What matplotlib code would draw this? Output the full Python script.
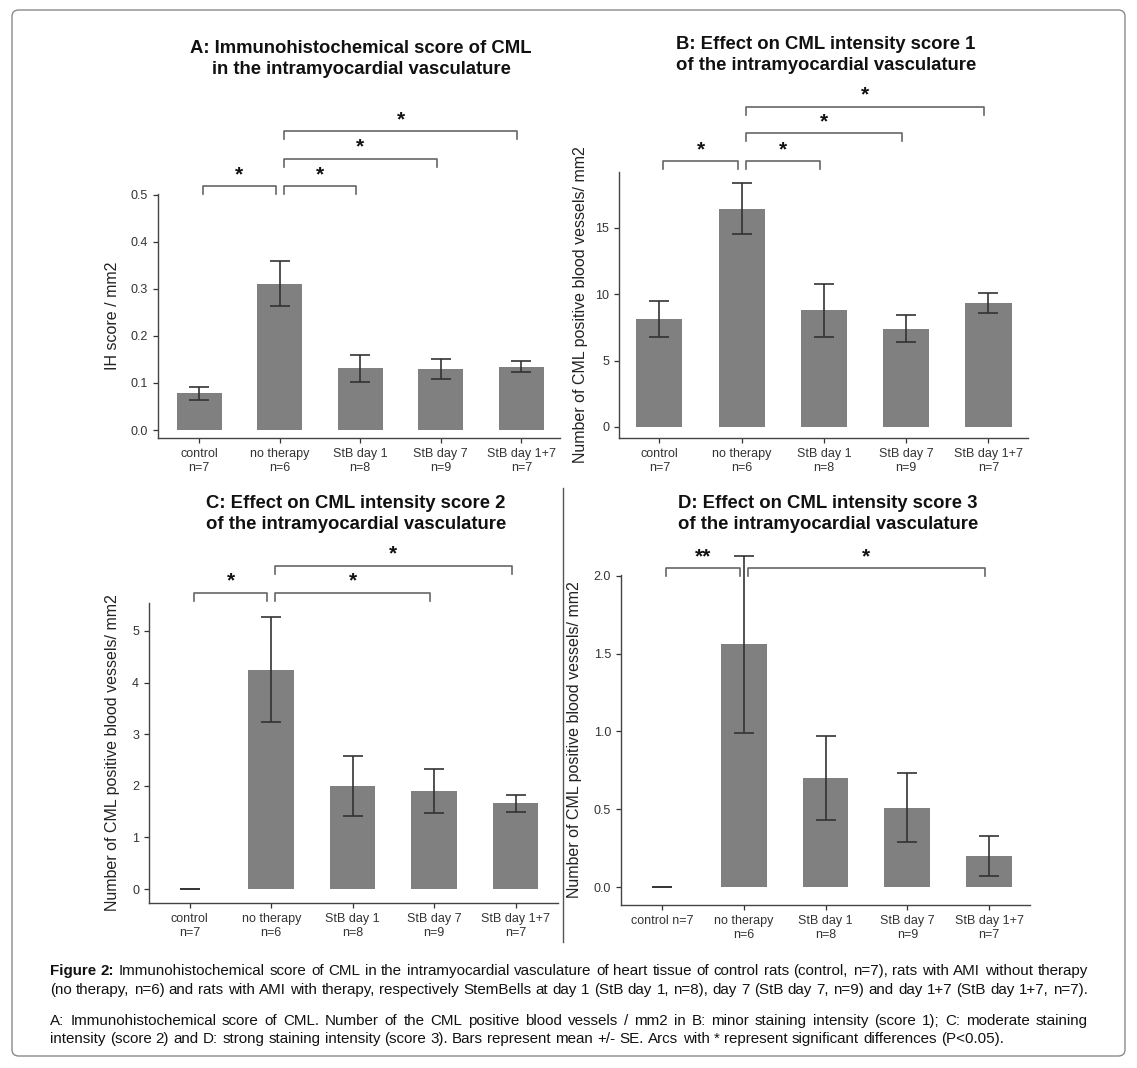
import matplotlib
matplotlib.use('Agg')
import matplotlib.pyplot as plt
import numpy as np
from matplotlib.patches import FancyBboxPatch
from matplotlib.lines import Line2D

plt.rcParams['font.family'] = ['Liberation Sans', 'DejaVu Sans']

# data (mean +/- SE)
groups = ['control', 'no therapy', 'StB day 1', 'StB day 7', 'StB day 1+7']
n_sizes = [7, 6, 8, 9, 7]

ih_mean = [0.078, 0.311, 0.131, 0.130, 0.135]
ih_se = [0.014, 0.048, 0.029, 0.022, 0.011]

s1_mean = [8.1, 16.45, 8.8, 7.4, 9.35]
s1_se = [1.35, 1.95, 2.0, 1.03, 0.75]

s2_mean = [0.0, 4.25, 2.0, 1.9, 1.66]
s2_se = [0.0, 1.02, 0.58, 0.42, 0.16]

s3_mean = [0.0, 1.56, 0.70, 0.51, 0.20]
s3_se = [0.0, 0.57, 0.27, 0.22, 0.13]

# significance arcs: (group a, group b, label, height)
sig_a = [(0, 1, '*', 0.519), (1, 2, '*', 0.519), (1, 3, '*', 0.577), (1, 4, '*', 0.636)]
sig_b = [(0, 1, '*', 20.0), (1, 2, '*', 20.0), (1, 3, '*', 22.1), (1, 4, '*', 24.1)]
sig_c = [(0, 1, '*', 5.74), (1, 3, '*', 5.74), (1, 4, '*', 6.26)]
sig_d = [(0, 1, '**', 2.05), (1, 4, '*', 2.05)]

W, H = 1137, 1068
fig = plt.figure(figsize=(W / 100, H / 100), dpi=100)


def box(l, r, t, b):
    return [l / W, 1 - b / H, (r - l) / W, (b - t) / H]


def panel(rect, xlim, ylim, mean, se, sig, yticks, yfmt, ylabel, labx, labels):
    ax = fig.add_axes(rect)
    x = np.arange(len(mean))
    ax.bar(x, mean, width=0.56, color='#808080', linewidth=0)
    ax.errorbar(x, mean, yerr=se, fmt='none', ecolor='#333333', elinewidth=1.2,
                capsize=7.5, capthick=1.2, clip_on=False)
    ax.set_xlim(xlim)
    ax.set_ylim(ylim)
    for s in ['top', 'right']:
        ax.spines[s].set_visible(False)
    for s in ['left', 'bottom']:
        ax.spines[s].set_color('#444444')
        ax.spines[s].set_linewidth(1.0)
    ax.set_yticks(yticks)
    ax.set_yticklabels([yfmt.format(v) for v in yticks])
    ax.set_xticks(x)
    ax.set_xticklabels(labels)
    ax.tick_params(colors='#333333', labelsize=9, length=3.6, width=0.9)
    ax.set_ylabel(ylabel, fontsize=11.5, color='#222222')
    ax.yaxis.set_label_coords(labx, 0.5)
    # bracket drop of ~8 px
    hpx = rect[3] * H
    drop = 8 * (ylim[1] - ylim[0]) / hpx
    for a, b, lab, yy in sig:
        xa, xb = a + 0.05, b - 0.05
        ax.add_line(Line2D([xa, xa, xb, xb], [yy - drop, yy, yy, yy - drop],
                           color='#666666', lw=1.2, clip_on=False))
        ax.annotate(lab, ((xa + xb) / 2, yy), xytext=(0, 1.5), textcoords='offset points',
                    ha='center', va='bottom', fontsize=15, fontweight='bold',
                    color='#111111', annotation_clip=False)
    return ax


two_line = ['{}\nn={}'.format(g, n) for g, n in zip(groups, n_sizes)]
d_labels = ['control n=7'] + two_line[1:]
ylab = 'Number of CML positive blood vessels/ mm2'

panel(box(158, 560, 194, 438), (-0.51, 4.48), (-0.017, 0.502), ih_mean, ih_se, sig_a,
      [0, 0.1, 0.2, 0.3, 0.4, 0.5], '{:.1f}', 'IH score / mm2', -0.095, two_line)
panel(box(619, 1028, 172, 438), (-0.49, 4.48), (-0.83, 19.2), s1_mean, s1_se, sig_b,
      [0, 5, 10, 15], '{:d}', ylab, -0.075, two_line)
panel(box(149, 558, 603, 903), (-0.50, 4.52), (-0.27, 5.54), s2_mean, s2_se, sig_c,
      [0, 1, 2, 3, 4, 5], '{:d}', ylab, -0.07, two_line)
panel(box(621, 1030, 575, 905), (-0.50, 4.50), (-0.1155, 2.006), s3_mean, s3_se, sig_d,
      [0, 0.5, 1.0, 1.5, 2.0], '{:.1f}', ylab, -0.095, d_labels)

titles = [
    (361, 59, 'A: Immunohistochemical score of CML\nin the intramyocardial vasculature'),
    (826, 55, 'B: Effect on CML intensity score 1\nof the intramyocardial vasculature'),
    (356, 514, 'C: Effect on CML intensity score 2\nof the intramyocardial vasculature'),
    (828, 514, 'D: Effect on CML intensity score 3\nof the intramyocardial vasculature'),
]
for tx, ty, tt in titles:
    fig.text(tx / W, 1 - ty / H, tt, ha='center', va='center', ma='center',
             fontsize=13.3, fontweight='bold', color='#111111', linespacing=1.38)

# divider between C and D, and the outer frame
fig.add_artist(Line2D([563 / W, 563 / W], [1 - 488 / H, 1 - 942 / H], color='#555555', lw=1.0))
fig.add_artist(FancyBboxPatch((12 / W, 1 - 1056 / H), (1113) / W, (1046) / H,
                              boxstyle='round,pad=0,rounding_size=0.006',
                              transform=fig.transFigure, fill=False,
                              edgecolor='#8a8a8a', lw=1.0))

# caption
renderer = fig.canvas.get_renderer()
cap_lines = [
    ('Figure 2: Immunohistochemical score of CML in the intramyocardial vasculature of heart '
     'tissue of control rats (control, n=7), rats with AMI without therapy', 971, True),
    ('(no therapy, n=6) and rats with AMI with therapy, respectively StemBells at day 1 '
     '(StB day 1, n=8), day 7 (StB day 7, n=9) and day 1+7 (StB day 1+7, n=7).', 990, True),
    ('A: Immunohistochemical score of CML. Number of the CML positive blood vessels / mm2 in '
     'B: minor staining intensity (score 1); C: moderate staining', 1021, True),
    ('intensity (score 2) and D: strong staining intensity (score 3). Bars represent mean +/- SE. '
     'Arcs with * represent significant differences (P<0.05).', 1039, False),
]
cap_fs = 10.9
t1 = fig.text(0, 0, 'a a', fontsize=cap_fs)
t2 = fig.text(0, 0, 'aa', fontsize=cap_fs)
sp_w = t1.get_window_extent(renderer).width - t2.get_window_extent(renderer).width
t1.remove()
t2.remove()
x0, x1 = 50, 1088
for k, (line, yy, just) in enumerate(cap_lines):
    words = line.split(' ')
    txts = []
    for i, w in enumerate(words):
        bold = (k == 0 and i < 2)
        t = fig.text(0, 1 - yy / H, w, fontsize=cap_fs, va='center', ha='left',
                     fontweight='bold' if bold else 'normal', color='#111111')
        txts.append(t)
    widths = [t.get_window_extent(renderer).width for t in txts]
    if just:
        gap = (x1 - x0 - sum(widths)) / (len(words) - 1)
    else:
        gap = sp_w
    xx = x0
    for t, w in zip(txts, widths):
        t.set_x(xx / W)
        xx += w + gap

fig.savefig('out.png', dpi=100)
